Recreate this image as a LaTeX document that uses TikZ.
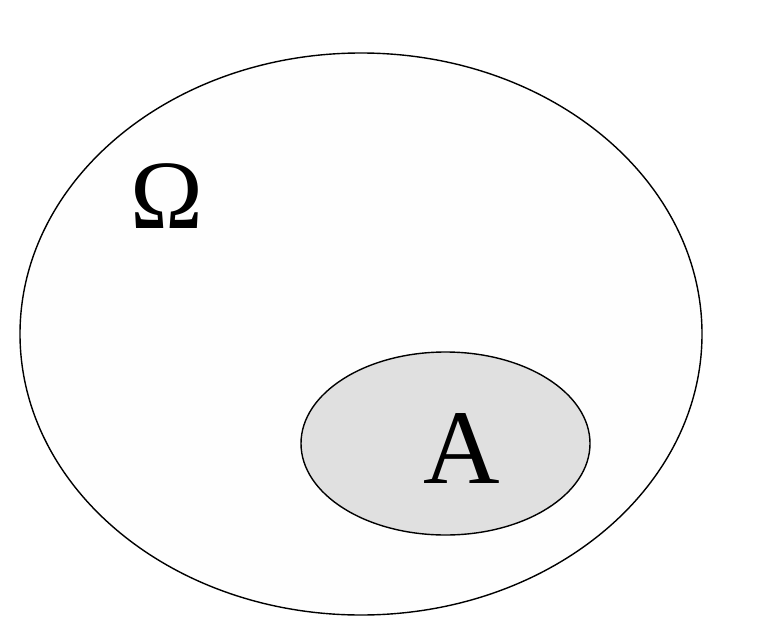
\documentclass[tikz,border=0pt]{standalone}
\usepackage{fontspec}
\setmainfont{Liberation Serif}
\begin{document}
\begin{tikzpicture}[x=1pt,y=-1pt,
  setbox/.style={draw=black,line width=1.4pt},
  lbl/.style={inner sep=0pt,anchor=base}]
\useasboundingbox (0,0) rectangle (783,639);
\fill[white] (0,0) rectangle (783,639);
\draw[setbox,fill=black!0.5] (361,334) ellipse [x radius=341, y radius=281];
\draw[setbox,fill=black!12] (445.5,443.5) ellipse [x radius=144.5, y radius=91.5];
\node[lbl,font=\fontsize{98}{100}\selectfont] (omega) at (167,228) {Ω};
\node[lbl,font=\fontsize{106}{110}\selectfont] (a) at (462,483) {A};
\end{tikzpicture}
\end{document}
